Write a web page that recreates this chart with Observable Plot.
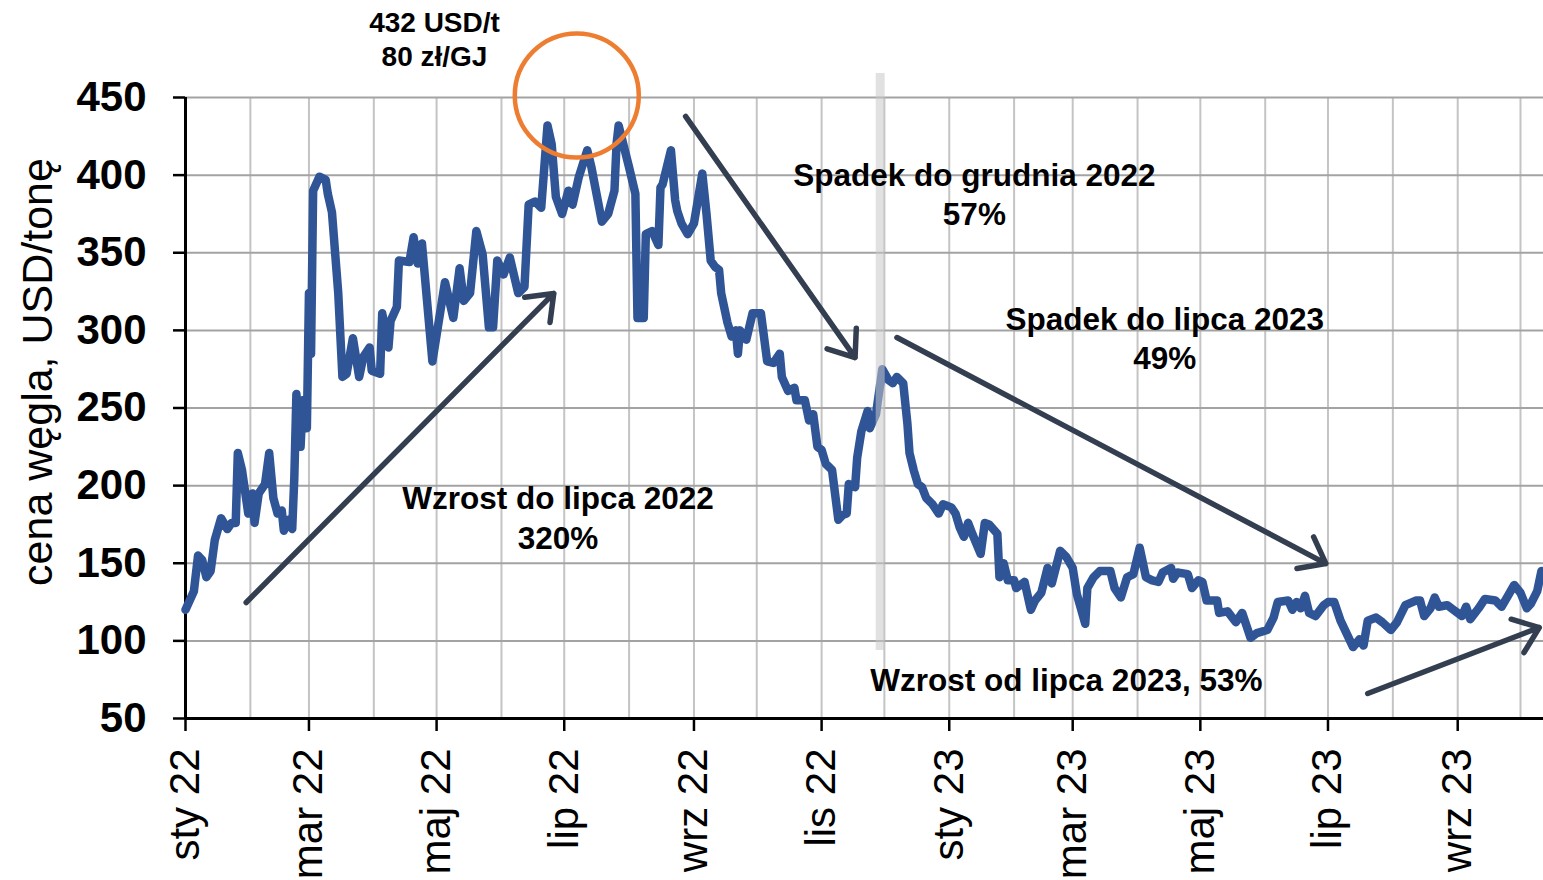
<!DOCTYPE html>
<html>
<head>
<meta charset="utf-8">
<script src="https://cdn.jsdelivr.net/npm/d3@7"></script>
<script src="https://cdn.jsdelivr.net/npm/@observablehq/plot@0.6"></script>
<style>
  html, body { margin: 0; padding: 0; background: #fff; }
  #chart svg { display: block; overflow: visible; }
</style>
</head>
<body>
<div id="chart"></div>
<script>
// ---- Data ----
const dates = [
  "2022-01-01","2022-01-05","2022-01-07","2022-01-09","2022-01-11","2022-01-13","2022-01-15","2022-01-18","2022-01-21","2022-01-23",
  "2022-01-25","2022-01-26","2022-01-28","2022-01-31","2022-02-02","2022-02-03","2022-02-05","2022-02-08","2022-02-10","2022-02-12",
  "2022-02-14","2022-02-16","2022-02-17","2022-02-19","2022-02-21","2022-02-22","2022-02-23","2022-02-25","2022-02-26","2022-02-27",
  "2022-02-28","2022-03-01","2022-03-02","2022-03-03","2022-03-06","2022-03-09","2022-03-10","2022-03-12","2022-03-15","2022-03-17",
  "2022-03-19","2022-03-22","2022-03-25","2022-03-27","2022-03-30","2022-03-31","2022-04-04","2022-04-05","2022-04-08","2022-04-09",
  "2022-04-12","2022-04-13","2022-04-18","2022-04-20","2022-04-22","2022-04-24","2022-04-29","2022-05-05","2022-05-09","2022-05-12",
  "2022-05-14","2022-05-17","2022-05-20","2022-05-23","2022-05-26","2022-05-28","2022-05-30","2022-06-02","2022-06-05","2022-06-09",
  "2022-06-12","2022-06-14","2022-06-17","2022-06-20","2022-06-23","2022-06-25","2022-06-27","2022-06-30","2022-07-03","2022-07-05",
  "2022-07-08","2022-07-12","2022-07-14","2022-07-19","2022-07-22","2022-07-25","2022-07-26","2022-07-27","2022-08-01","2022-08-04",
  "2022-08-05","2022-08-08","2022-08-09","2022-08-12","2022-08-15","2022-08-16","2022-08-17","2022-08-21","2022-08-23","2022-08-24",
  "2022-08-26","2022-08-29","2022-09-01","2022-09-05","2022-09-07","2022-09-09","2022-09-11","2022-09-13","2022-09-14","2022-09-17",
  "2022-09-19","2022-09-21","2022-09-22","2022-09-23","2022-09-26","2022-09-29","2022-10-03","2022-10-06","2022-10-09","2022-10-12",
  "2022-10-13","2022-10-16","2022-10-19","2022-10-20","2022-10-24","2022-10-26","2022-10-28","2022-10-30","2022-11-01","2022-11-03",
  "2022-11-06","2022-11-09","2022-11-11","2022-11-13","2022-11-14","2022-11-17","2022-11-18","2022-11-20","2022-11-23","2022-11-24",
  "2022-11-27","2022-11-30","2022-12-03","2022-12-05","2022-12-07","2022-12-10","2022-12-12","2022-12-13","2022-12-15","2022-12-17",
  "2022-12-19","2022-12-21","2022-12-24","2022-12-27","2022-12-29","2023-01-02","2023-01-04","2023-01-06","2023-01-08","2023-01-10",
  "2023-01-12","2023-01-16","2023-01-18","2023-01-20","2023-01-24","2023-01-25","2023-01-27","2023-01-29","2023-02-01","2023-02-02",
  "2023-02-06","2023-02-09","2023-02-11","2023-02-14","2023-02-17","2023-02-19","2023-02-23","2023-02-26","2023-03-01","2023-03-03",
  "2023-03-07","2023-03-08","2023-03-11","2023-03-14","2023-03-19","2023-03-21","2023-03-24","2023-03-27","2023-03-30","2023-04-02",
  "2023-04-05","2023-04-08","2023-04-11","2023-04-13","2023-04-17","2023-04-18","2023-04-20","2023-04-25","2023-04-27","2023-04-30",
  "2023-05-02","2023-05-04","2023-05-09","2023-05-10","2023-05-14","2023-05-18","2023-05-21","2023-05-25","2023-05-28","2023-06-02",
  "2023-06-05","2023-06-07","2023-06-12","2023-06-14","2023-06-16","2023-06-18","2023-06-20","2023-06-22","2023-06-25","2023-06-29",
  "2023-07-01","2023-07-04","2023-07-07","2023-07-13","2023-07-16","2023-07-18","2023-07-20","2023-07-24","2023-07-27","2023-07-31",
  "2023-08-03","2023-08-07","2023-08-12","2023-08-14","2023-08-16","2023-08-19","2023-08-21","2023-08-23","2023-08-27","2023-08-30",
  "2023-09-03","2023-09-05","2023-09-07","2023-09-11","2023-09-14","2023-09-19","2023-09-22","2023-09-25","2023-09-28","2023-10-01",
  "2023-10-04","2023-10-06","2023-10-09","2023-10-11"
];
const prices = [
  120,132,155,152,141,145,165,179,172,176,
  176,221,210,182,195,176,195,201,221,192,
  182,184,171,178,172,205,259,225,255,240,
  237,324,285,390,399,397,388,376,324,270,
  272,295,270,283,289,274,272,311,289,306,
  315,345,344,360,343,356,280,331,308,340,
  319,324,364,349,302,302,345,336,347,324,
  328,381,383,379,432,420,386,375,390,381,
  399,416,405,370,375,390,420,432,405,388,
  308,308,362,364,355,392,394,416,384,377,
  369,362,369,401,375,345,341,339,324,305,
  296,300,285,300,294,311,311,280,279,285,
  270,261,263,255,255,242,246,225,223,214,
  210,178,181,182,201,199,218,235,248,237,
  246,275,268,266,270,266,240,221,210,201,
  199,192,188,182,188,186,182,173,167,176,
  169,156,176,175,169,141,150,139,139,134,
  138,120,126,131,147,137,158,154,147,130,
  111,134,141,145,145,134,128,141,143,160,
  141,139,138,144,147,140,144,143,134,139,
  138,126,126,118,119,112,118,102,105,107,
  115,125,126,120,125,121,129,118,116,123,
  125,125,113,96,101,97,113,115,112,107,
  112,123,126,126,116,121,128,122,123,120,
  116,122,114,121,127,126,122,129,136,131,
  121,124,132,145
];

const yTicks = [50, 100, 150, 200, 250, 300, 350, 400, 450];
const xTickDates = ["2022-01-01","2022-03-01","2022-05-01","2022-07-01","2022-09-01","2022-11-01",
                    "2023-01-01","2023-03-01","2023-05-01","2023-07-01","2023-09-01"];
const xTickLabels = ["sty 22","mar 22","maj 22","lip 22","wrz 22","lis 22",
                     "sty 23","mar 23","maj 23","lip 23","wrz 23"];
const yTitle = "cena węgla, USD/tonę";

// annotation texts (anchored in data coordinates)
const noteTexts = ["432 USD/t\n80 zł/GJ", "Spadek do grudnia 2022\n57%", "Spadek do lipca 2023\n49%",
                   "Wzrost do lipca 2022\n320%", "Wzrost od lipca 2023, 53%"];
const noteDates = ["2022-04-30", "2023-01-13", "2023-04-14", "2022-06-28", "2023-02-26"];
const noteValues = [470, 367.6, 275.4, 159.5, 68];

// arrows: tail -> head
const arrowFromDates = ["2022-01-30", "2022-08-28", "2022-12-07", "2023-07-20"];
const arrowFromValues = [124.7, 437.8, 295.4, 66.1];
const arrowToDates = ["2022-06-26", "2022-11-17", "2023-06-30", "2023-10-10"];
const arrowToValues = [323.8, 282.5, 149.8, 108.6];

const peakCircleDate = "2022-07-07";
const peakCircleValue = 451.3;
const markerDate = "2022-11-29";
const markerRange = [93.8, 465.5];

// ---- Build ----
const parse = d3.utcParse("%Y-%m-%d");
const series = dates.map((d, i) => ({date: parse(d), value: prices[i]}));
const notes = noteTexts.map((t, i) => ({text: t, date: parse(noteDates[i]), value: noteValues[i]}));
const arrows = arrowFromDates.map((d, i) => ({
  x1: parse(d), y1: arrowFromValues[i], x2: parse(arrowToDates[i]), y2: arrowToValues[i]
}));
const xStart = parse("2022-01-01"), xEnd = parse("2023-10-12");
const monthGrid = d3.utcMonth.range(parse("2022-02-01"), xEnd);
const tickDates = xTickDates.map(parse);
const labelFor = d => {
  const i = tickDates.findIndex(t => +t === +d);
  return i >= 0 ? xTickLabels[i] : "";
};

const chart = Plot.plot({
  width: 1543,
  height: 880,
  marginLeft: 185,
  marginRight: 0,
  marginTop: 97,
  marginBottom: 162,
  style: {fontFamily: "'Liberation Sans', Arial, sans-serif", background: "#fff", color: "#000"},
  x: {type: "utc", domain: [xStart, xEnd]},
  y: {domain: [50, 450]},
  marks: [
    Plot.ruleX(monthGrid, {y1: 50, y2: 450, stroke: "#c4c4c4", strokeWidth: 2}),
    Plot.ruleY(yTicks, {stroke: "#a3a3a3", strokeWidth: 2}),
    Plot.axisY({ticks: yTicks, tickSize: 12, tickPadding: 27, fontSize: 42, fontWeight: "bold", label: null, strokeWidth: 2.5}),
    Plot.axisX({ticks: tickDates, tickFormat: labelFor, tickRotate: -90, tickSize: 13, tickPadding: 17,
                fontSize: 42, label: null, strokeWidth: 2.5}),
    Plot.ruleX([xStart], {y1: 50, y2: 450, stroke: "#000", strokeWidth: 3}),
    Plot.ruleY([50], {stroke: "#000", strokeWidth: 3}),
    Plot.text([yTitle], {frameAnchor: "left", dx: -134, dy: -36, rotate: -90, lineAnchor: "bottom",
                         textAnchor: "middle", fontSize: 43, fill: "#000"}),
    Plot.line(series, {x: "date", y: "value", stroke: "#2f5597", strokeWidth: 8.5,
                       strokeLinejoin: "round", strokeLinecap: "round", curve: "linear"}),
    Plot.ruleX([parse(markerDate)], {y1: markerRange[0], y2: markerRange[1], stroke: "#c8c8c8",
                                     strokeWidth: 9, strokeOpacity: 0.55}),
    Plot.arrow(arrows, {x1: "x1", y1: "y1", x2: "x2", y2: "y2", stroke: "#333f50", strokeWidth: 5.5,
                        headLength: 8, headAngle: 75}),
    Plot.dot([{date: parse(peakCircleDate), value: peakCircleValue}],
             {x: "date", y: "value", r: 62, stroke: "#ed7d31", strokeWidth: 4.5, fill: "none"}),
    Plot.text(notes.slice(0, 1), {x: "date", y: "value", text: "text", lineAnchor: "bottom",
                                  fontSize: 28, fontWeight: "bold", lineHeight: 1.22, fill: "#000"}),
    Plot.text(notes.slice(1), {x: "date", y: "value", text: "text", lineAnchor: "bottom",
                               fontSize: 31.5, fontWeight: "bold", lineHeight: 1.24, fill: "#000"})
  ]
});
document.getElementById("chart").appendChild(chart);
</script>
</body>
</html>
